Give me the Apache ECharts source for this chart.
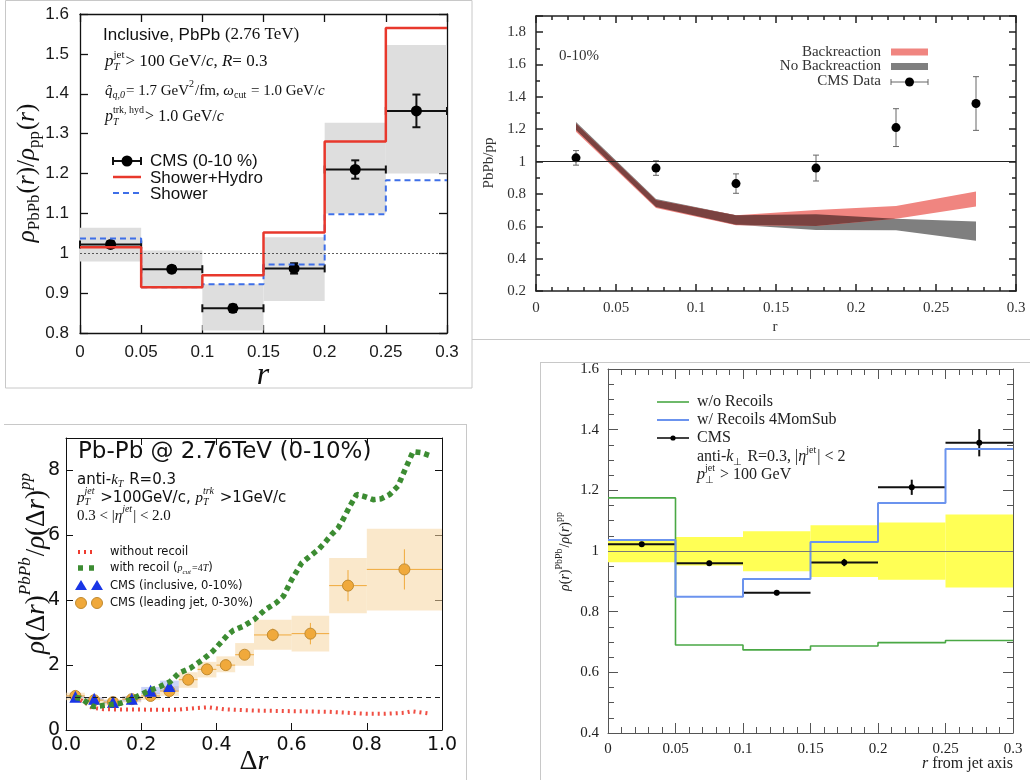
<!DOCTYPE html>
<html>
<head>
<meta charset="utf-8">
<script src="https://cdn.jsdelivr.net/npm/echarts@6/dist/echarts.min.js"></script>
<style>
  html, body { margin: 0; padding: 0; background: #fff; }
  #chart { width: 1030px; height: 780px; }
</style>
</head>
<body>
<div id="chart"></div>
<script>
// ---------- panel 1 (top left): shower+hydro vs CMS ----------
const binEdges = [0, 0.05, 0.1, 0.15, 0.2, 0.25, 0.3];
const binCenters = [0.025, 0.075, 0.125, 0.175, 0.225, 0.275];
const cmsRatio = [1.022, 0.96, 0.862, 0.962, 1.21, 1.357];
const cmsStatErr = [0.008, 0.008, 0.009, 0.013, 0.023, 0.041];
const cmsSysLo = [0.979, 0.912, 0.806, 0.88, 1.1, 1.2];
const cmsSysHi = [1.064, 1.007, 0.922, 1.04, 1.327, 1.522];
const showerHydro = [1.015, 0.915, 0.945, 1.052, 1.28, 1.565];
const showerOnly = [1.037, 0.915, 0.922, 0.972, 1.098, 1.183];

// ---------- panel 2 (top right): backreaction bands ----------
const bandX = [0.025, 0.075, 0.125, 0.175, 0.225, 0.275];
const backLo = [1.185, 0.713, 0.606, 0.602, 0.647, 0.722];
const backHi = [1.235, 0.762, 0.668, 0.70, 0.726, 0.815];
const noBackLo = [1.195, 0.72, 0.61, 0.577, 0.575, 0.51];
const noBackHi = [1.245, 0.768, 0.668, 0.675, 0.647, 0.629];
const cms2Ratio = [1.023, 0.96, 0.864, 0.96, 1.21, 1.359];
const cms2Err = [0.045, 0.045, 0.06, 0.08, 0.117, 0.166];

// ---------- panel 3 (bottom left): recoil, 0 < dr < 1 ----------
const recoilX = [0.025, 0.038, 0.073, 0.11, 0.144, 0.18, 0.215, 0.25, 0.277, 0.3, 0.33, 0.365, 0.39, 0.43, 0.445, 0.47, 0.5, 0.53, 0.56, 0.578, 0.6, 0.627, 0.649, 0.671, 0.688, 0.706, 0.724, 0.737, 0.755, 0.773, 0.79, 0.817, 0.839, 0.861, 0.883, 0.9, 0.923, 0.945, 0.972];
const recoilY = [1.0, 0.98, 0.72, 0.77, 0.82, 0.98, 1.18, 1.34, 1.49, 1.75, 1.9, 2.18, 2.42, 2.93, 3.07, 3.19, 3.4, 3.71, 3.93, 4.12, 4.63, 5.15, 5.36, 5.56, 5.77, 6.02, 6.23, 6.49, 6.9, 7.26, 7.21, 7.1, 7.13, 7.26, 7.52, 7.98, 8.58, 8.55, 8.44];
const noRecoilX = [0.025, 0.05, 0.07, 0.1, 0.15, 0.2, 0.25, 0.3, 0.35, 0.38, 0.42, 0.5, 0.55, 0.6, 0.65, 0.7, 0.75, 0.8, 0.85, 0.9, 0.92, 0.97];
const noRecoilY = [1.02, 0.85, 0.68, 0.64, 0.63, 0.63, 0.62, 0.63, 0.68, 0.7, 0.64, 0.6, 0.59, 0.58, 0.57, 0.56, 0.53, 0.5, 0.5, 0.53, 0.58, 0.5];
const leadX = [0.025, 0.075, 0.125, 0.175, 0.225, 0.275, 0.325, 0.375, 0.425, 0.475, 0.55, 0.65, 0.75, 0.9];
const leadBinLo = [0, 0.05, 0.1, 0.15, 0.2, 0.25, 0.3, 0.35, 0.4, 0.45, 0.5, 0.6, 0.7, 0.8];
const leadBinHi = [0.05, 0.1, 0.15, 0.2, 0.25, 0.3, 0.35, 0.4, 0.45, 0.5, 0.6, 0.7, 0.8, 1.0];
const leadRatio = [1.05, 0.92, 0.86, 0.95, 1.05, 1.2, 1.55, 1.87, 2.0, 2.32, 2.93, 2.97, 4.45, 4.95];
const leadErr = [0.03, 0.03, 0.03, 0.03, 0.04, 0.05, 0.06, 0.07, 0.08, 0.1, 0.2, 0.33, 0.48, 0.62];
const leadSysLo = [0.92, 0.8, 0.75, 0.85, 0.93, 1.05, 1.3, 1.62, 1.78, 1.98, 2.47, 2.42, 3.6, 3.68];
const leadSysHi = [1.15, 1.0, 0.95, 1.05, 1.15, 1.35, 1.78, 2.1, 2.27, 2.68, 3.4, 3.52, 5.3, 6.2];

// ---------- panel 4 (bottom right): recoils 4MomSub ----------
const woRecoils = [1.175, 0.69, 0.674, 0.687, 0.698, 0.705];
const wRecoils = [1.036, 0.849, 0.908, 1.03, 1.158, 1.336];
const mcLo = [0.963, 0.952, 0.933, 0.914, 0.905, 0.88];
const mcHi = [1.037, 1.046, 1.065, 1.085, 1.094, 1.12];
const cms4Err = [0.008, 0.008, 0.008, 0.012, 0.025, 0.045];

const SANS = 'Liberation Sans', SERIF = 'Liberation Serif', DJS = 'DejaVu Sans';

// overlap of the two bands in panel 2 (drawn darker, as in the original)
const overlapLo = backLo.map((v, i) => Math.max(v, noBackLo[i]));
const overlapHi = backHi.map((v, i) => Math.max(overlapLo[i], Math.min(v, noBackHi[i])));

// ---- axes ----
const xAxes = [], yAxes = [];
function addAxes(grid, xr, yr, st) {
  const line = { show: true, onZero: false, lineStyle: { color: st.color, width: st.lw } };
  const tick = { show: true, inside: true, length: st.tick, lineStyle: { color: st.color, width: st.lw } };
  const minor = (n) => n ? { show: true, splitNumber: n, length: st.minor, lineStyle: { color: st.color, width: st.lw } } : { show: false };
  const label = { fontFamily: st.font, fontSize: st.fs, color: st.lc, margin: st.margin };
  [false, true].forEach(mirror => {
    const xl = mirror ? { show: false } : Object.assign({}, label);
    if (!mirror && st.fx) xl.formatter = st.fx;
    xAxes.push({
      type: 'value', gridIndex: grid, position: mirror ? 'top' : 'bottom',
      min: xr[0], max: xr[1], interval: xr[2],
      axisLine: line, axisTick: tick, minorTick: minor(xr[3]),
      splitLine: { show: false }, axisLabel: xl
    });
    const yl = mirror ? { show: false } : Object.assign({ showMaxLabel: st.showMaxY !== false }, label);
    if (!mirror && st.fy) yl.formatter = st.fy;
    yAxes.push({
      type: 'value', gridIndex: grid, position: mirror ? 'right' : 'left',
      min: yr[0], max: yr[1], interval: yr[2],
      axisLine: line, axisTick: tick, minorTick: minor(yr[3]),
      splitLine: { show: false }, axisLabel: yl
    });
  });
}
addAxes(0, [0, 0.3, 0.05, 0], [0.8, 1.6, 0.1, 0],
  { color: '#111', lw: 1.3, tick: 8, minor: 0, font: SANS, fs: 17, lc: '#1a1a1a', margin: 11 });
addAxes(1, [0, 0.3, 0.05, 5], [0.2, 1.9, 0.2, 2],
  { color: '#222', lw: 1.5, tick: 7, minor: 4, font: SERIF, fs: 15, lc: '#333', margin: 10, showMaxY: false });
addAxes(2, [0, 1, 0.2, 0], [0, 9, 2, 0],
  { color: '#111', lw: 1, tick: 7, minor: 0, font: DJS, fs: 19, lc: '#111', margin: 6, showMaxY: false,
    fx: v => v.toFixed(1), fy: v => (v % 2 === 0 ? String(v) : '') });
addAxes(3, [0, 0.3, 0.05, 5], [0.4, 1.6, 0.2, 4],
  { color: '#555', lw: 1, tick: 10, minor: 6, font: SERIF, fs: 15, lc: '#222', margin: 9 });

// ---- render helpers ----
function ax(g) { return { xAxisIndex: g * 2, yAxisIndex: g * 2 }; }

function boxSeries(g, rows, fill) {
  return Object.assign({
    type: 'custom', coordinateSystem: 'cartesian2d', silent: true, data: rows,
    renderItem: (params, api) => {
      const a = api.coord([api.value(0), api.value(3)]);
      const b = api.coord([api.value(1), api.value(2)]);
      return { type: 'rect', shape: { x: a[0], y: a[1], width: b[0] - a[0], height: b[1] - a[1] }, style: { fill } };
    }
  }, ax(g));
}

// rows: [x, y, xlo, xhi, ylo, yhi]
function errSeries(g, rows, color, width, capX, capY) {
  return Object.assign({
    type: 'custom', coordinateSystem: 'cartesian2d', silent: true, data: rows,
    renderItem: (params, api) => {
      const x = api.value(0), y = api.value(1);
      const xlo = api.value(2), xhi = api.value(3), ylo = api.value(4), yhi = api.value(5);
      const st = { stroke: color, lineWidth: width };
      const kids = [];
      const seg = (p, q) => kids.push({ type: 'line', shape: { x1: p[0], y1: p[1], x2: q[0], y2: q[1] }, style: st });
      if (xhi > xlo) {
        const a = api.coord([xlo, y]), b = api.coord([xhi, y]);
        seg(a, b);
        if (capY) { seg([a[0], a[1] - capY], [a[0], a[1] + capY]); seg([b[0], b[1] - capY], [b[0], b[1] + capY]); }
      }
      if (yhi > ylo) {
        const a = api.coord([x, ylo]), b = api.coord([x, yhi]);
        seg(a, b);
        if (capX) { seg([a[0] - capX, a[1]], [a[0] + capX, a[1]]); seg([b[0] - capX, b[1]], [b[0] + capX, b[1]]); }
      }
      return { type: 'group', children: kids };
    }
  }, ax(g));
}

// band built from consecutive segments: rows [x0, lo0, hi0, x1, lo1, hi1]
function bandSeries(g, xs, lo, hi, fill) {
  const rows = [];
  for (let i = 0; i < xs.length - 1; i++) {
    if (hi[i] - lo[i] + hi[i + 1] - lo[i + 1] <= 0) continue;
    rows.push([xs[i], lo[i], hi[i], xs[i + 1], lo[i + 1], hi[i + 1]]);
  }
  return Object.assign({
    type: 'custom', coordinateSystem: 'cartesian2d', silent: true, data: rows,
    renderItem: (params, api) => {
      const pts = [
        api.coord([api.value(0), api.value(1)]), api.coord([api.value(3), api.value(4)]),
        api.coord([api.value(3), api.value(5)]), api.coord([api.value(0), api.value(2)])
      ];
      return { type: 'polygon', shape: { points: pts }, style: { fill } };
    }
  }, ax(g));
}

function stepSeries(g, vals, color, width, type) {
  return Object.assign({
    type: 'line', step: 'end', symbol: 'none', silent: true,
    data: binEdges.map((e, i) => [e, vals[Math.min(i, vals.length - 1)]]),
    lineStyle: { color, width, type: type || 'solid' }
  }, ax(g));
}

function unityLine(g, color, type, width) {
  return Object.assign({
    type: 'line', data: [], silent: true,
    markLine: { silent: true, symbol: ['none', 'none'], label: { show: false },
      lineStyle: { color, type, width }, data: [{ yAxis: 1 }] }
  }, ax(g));
}

function scatter(g, xs, ys, symbol, size, color, border) {
  return Object.assign({
    type: 'scatter', symbol, symbolSize: size, silent: true,
    data: xs.map((x, i) => [x, ys[i]]),
    itemStyle: { color, borderColor: border || color, borderWidth: border ? 1 : 0, opacity: 1 }
  }, ax(g));
}

// ---- text helpers (math-like labels with sub/superscripts) ----
const mctx = document.createElement('canvas').getContext('2d');
function measure(t, s, f, it) { mctx.font = (it ? 'italic ' : '') + s + 'px "' + f + '"'; return mctx.measureText(t).width; }
function txt(x, y, t, s, f, it, color) {
  return { type: 'text', x, y, silent: true,
    style: { text: t, fontSize: s, fontFamily: f, fontStyle: it ? 'italic' : 'normal', fill: color, align: 'left', verticalAlign: 'middle' } };
}
function mathText(x, y, pieces, base, align, rotation) {
  const els = []; let cx = 0;
  const S = base.s, F = base.f, C = base.c || '#111';
  pieces.forEach(p => {
    const f = p.f || F;
    if (p.t !== undefined) {
      const s = p.s || S;
      els.push(txt(cx, p.dy || 0, p.t, s, f, p.it, C));
      cx += measure(p.t, s, f, p.it);
    } else {
      const s = p.s || Math.round(S * 0.65);
      let w = 0;
      if (p.up) { els.push(txt(cx, -S * 0.42, p.up, s, f, p.upIt, C)); w = Math.max(w, measure(p.up, s, f, p.upIt)); }
      if (p.dn) { els.push(txt(cx, S * 0.32, p.dn, s, f, p.dnIt, C)); w = Math.max(w, measure(p.dn, s, f, p.dnIt)); }
      cx += w + 1;
    }
  });
  const shift = align === 'center' ? -cx / 2 : align === 'right' ? -cx : 0;
  els.forEach(e => { e.x += shift; });
  return { type: 'group', x, y, rotation: rotation || 0, children: els, z: 100 };
}
function plain(x, y, t, s, f, color, align, it) {
  return { type: 'text', x, y, silent: true, z: 100,
    style: { text: t, fontSize: s, fontFamily: f, fontStyle: it ? 'italic' : 'normal', fill: color || '#111', align: align || 'left', verticalAlign: 'middle' } };
}
const L = (x1, y1, x2, y2, stroke, lineWidth, dash) =>
  ({ type: 'line', silent: true, z: 100, shape: { x1, y1, x2, y2 }, style: { stroke, lineWidth, lineDash: dash || null } });
const dot = (cx, cy, r, fill, stroke) =>
  ({ type: 'circle', silent: true, z: 100, shape: { cx, cy, r }, style: { fill, stroke: stroke || null, lineWidth: 1 } });

// ---- series ----
const idx = binCenters.map((_, i) => i);
const series = [
  // panel 1
  boxSeries(0, idx.map(i => [binEdges[i], binEdges[i + 1], cmsSysLo[i], cmsSysHi[i]]), '#dedede'),
  unityLine(0, '#333', [2, 2], 0.8),
  stepSeries(0, showerOnly, '#3e6fe8', 2, [6, 4]),
  stepSeries(0, showerHydro, '#e8382c', 2.5),
  errSeries(0, idx.map(i => [binCenters[i], cmsRatio[i], binEdges[i], binEdges[i + 1], cmsRatio[i] - cmsStatErr[i], cmsRatio[i] + cmsStatErr[i]]), '#111', 2, 4, 4),
  scatter(0, binCenters, cmsRatio, 'circle', 11, '#000'),
  // panel 2
  unityLine(1, '#222', 'solid', 1.2),
  bandSeries(1, bandX, noBackLo, noBackHi, '#7f7f7f'),
  bandSeries(1, bandX, backLo, backHi, '#f08580'),
  bandSeries(1, bandX, overlapLo, overlapHi, '#7a4240'),
  errSeries(1, idx.map(i => [binCenters[i], cms2Ratio[i], 0, 0, cms2Ratio[i] - cms2Err[i], cms2Ratio[i] + cms2Err[i]]), '#666', 1, 3, 0),
  scatter(1, binCenters, cms2Ratio, 'circle', 9, '#000'),
  // panel 3
  boxSeries(2, leadX.map((_, i) => [leadBinLo[i], leadBinHi[i], leadSysLo[i], leadSysHi[i]]), 'rgba(246,214,160,0.55)'),
  boxSeries(2, idx.map(i => [binEdges[i], binEdges[i + 1], cmsSysLo[i], cmsSysHi[i]]), 'rgba(140,160,240,0.45)'),
  unityLine(2, '#222', [5, 4], 1.2),
  Object.assign({ type: 'line', symbol: 'none', silent: true, data: noRecoilX.map((x, i) => [x, noRecoilY[i]]),
    lineStyle: { color: '#ee3b2f', width: 4, type: [2, 4], opacity: 0.9 } }, ax(2)),
  Object.assign({ type: 'line', symbol: 'none', silent: true, data: recoilX.map((x, i) => [x, recoilY[i]]),
    lineStyle: { color: '#3c8c32', width: 5.5, type: [5, 4] } }, ax(2)),
  errSeries(2, leadX.map((x, i) => [x, leadRatio[i], leadBinLo[i], leadBinHi[i], leadRatio[i] - leadErr[i], leadRatio[i] + leadErr[i]]), '#f0a93b', 1, 0, 0),
  scatter(2, leadX, leadRatio, 'circle', 11, '#f0a93b', '#c08a30'),
  scatter(2, binCenters, cmsRatio, 'triangle', 12, '#1935e6'),
  // panel 4
  boxSeries(3, idx.map(i => [binEdges[i], binEdges[i + 1], mcLo[i], mcHi[i]]), '#ffff55'),
  unityLine(3, '#777', 'solid', 1),
  stepSeries(3, woRecoils, '#4aa845', 1.6),
  stepSeries(3, wRecoils, '#6b93ee', 2),
  errSeries(3, idx.map(i => [binCenters[i], cmsRatio[i], binEdges[i], binEdges[i + 1], cmsRatio[i] - cms4Err[i], cmsRatio[i] + cms4Err[i]]), '#111', 2, 0, 0),
  scatter(3, binCenters, cmsRatio, 'circle', 6, '#000')
];
series.forEach(s => { s.animation = false; });

// ---- texts, legends, frames ----
const graphics = [
  // panel frames
  { type: 'rect', silent: true, shape: { x: 5.5, y: 0.5, width: 466.5, height: 387.5 }, style: { fill: null, stroke: '#c8c8c8', lineWidth: 1 } },
  L(472, 339.5, 1030, 339.5, '#c8c8c8', 1),
  L(4, 424.5, 466.5, 424.5, '#c8c8c8', 1), L(466.5, 424, 466.5, 780, '#c8c8c8', 1),
  L(540, 362.5, 1030, 362.5, '#c8c8c8', 1), L(540.5, 362, 540.5, 780, '#c8c8c8', 1),

  // panel 1 texts
  mathText(103, 35, [{ t: 'Inclusive, PbPb ', f: SANS }, { t: '(2.76 TeV)' }], { s: 17, f: SERIF }),
  mathText(105, 62, [{ t: 'p', it: 1 }, { up: 'jet', dn: 'T', dnIt: 1 }, { t: '> 100 GeV/' }, { t: 'c', it: 1 }, { t: ', ' }, { t: 'R', it: 1 }, { t: '= 0.3' }], { s: 17, f: SERIF }),
  mathText(105, 91, [{ t: 'q\u0302', it: 1 }, { dn: 'q,0', dnIt: 1 }, { t: '= 1.7 GeV' }, { up: '2' }, { t: '/fm, ' }, { t: 'ω', it: 1 }, { dn: 'cut' }, { t: ' = 1.0 GeV/' }, { t: 'c', it: 1 }], { s: 15, f: SERIF }),
  mathText(105, 117, [{ t: 'p', it: 1 }, { up: 'trk, hyd', dn: 'T', dnIt: 1 }, { t: '> 1.0 GeV/' }, { t: 'c', it: 1 }], { s: 16, f: SERIF }),
  L(113, 161, 141, 161, '#111', 2), L(113, 157, 113, 165, '#111', 2), L(141, 157, 141, 165, '#111', 2), dot(127, 161, 5.5, '#000'),
  L(113, 177, 141, 177, '#e8382c', 2.5),
  L(113, 193, 141, 193, '#3e6fe8', 2, [6, 4]),
  plain(150, 161, 'CMS (0-10 %)', 17, SANS, '#111'),
  plain(150, 178, 'Shower+Hydro', 17, SANS, '#111'),
  plain(150, 194, 'Shower', 17, SANS, '#111'),
  mathText(27, 173, [{ t: 'ρ', it: 1 }, { dn: 'PbPb', s: 17 }, { t: '(' }, { t: 'r', it: 1 }, { t: ')/' }, { t: 'ρ', it: 1 }, { dn: 'pp', s: 17 }, { t: '(' }, { t: 'r', it: 1 }, { t: ')' }], { s: 25, f: SERIF }, 'center', Math.PI / 2),
  plain(263, 376, 'r', 32, SERIF, '#111', 'center', true),

  // panel 2 texts
  plain(559, 56, '0-10%', 15, SERIF, '#333'),
  plain(881, 52, 'Backreaction', 15, SERIF, '#333', 'right'),
  plain(881, 66, 'No Backreaction', 15, SERIF, '#333', 'right'),
  plain(881, 81, 'CMS Data', 15, SERIF, '#333', 'right'),
  { type: 'rect', silent: true, z: 100, shape: { x: 891, y: 48.5, width: 37, height: 7 }, style: { fill: '#f08580' } },
  { type: 'rect', silent: true, z: 100, shape: { x: 891, y: 63, width: 37, height: 7 }, style: { fill: '#7f7f7f' } },
  L(891, 82, 928, 82, '#666', 1), L(891, 79, 891, 85, '#666', 1), L(928, 79, 928, 85, '#666', 1), dot(909.5, 82, 4.5, '#000'),
  mathText(489, 163, [{ t: 'PbPb/pp' }], { s: 15, f: SERIF, c: '#333' }, 'center', Math.PI / 2),
  plain(775, 327, 'r', 15, SERIF, '#333', 'center'),

  // panel 3 texts
  plain(78, 452, 'Pb-Pb @ 2.76TeV (0-10%)', 23, DJS, '#111'),
  mathText(77, 480, [{ t: 'anti-' }, { t: 'k', it: 1, f: SERIF }, { dn: 'T', dnIt: 1, f: SERIF }, { t: ' R=0.3' }], { s: 15, f: DJS }),
  mathText(77, 498, [{ t: 'p', it: 1, f: SERIF }, { up: 'jet', dn: 'T', upIt: 1, dnIt: 1, f: SERIF }, { t: ' >100GeV/c, ' }, { t: 'p', it: 1, f: SERIF }, { up: 'trk', dn: 'T', upIt: 1, dnIt: 1, f: SERIF }, { t: ' >1GeV/c' }], { s: 15, f: DJS }),
  mathText(77, 516, [{ t: '0.3 < |' }, { t: 'η', it: 1 }, { up: 'jet', upIt: 1 }, { t: '| < 2.0' }], { s: 15, f: SERIF }),
  L(78, 552, 96, 552, '#ee3b2f', 4, [2, 4]),
  L(78, 568, 98, 568, '#3c8c32', 5.5, [5, 6]),
  { type: 'polygon', silent: true, z: 100, shape: { points: [[81, 580], [75, 590], [87, 590]] }, style: { fill: '#1935e6' } },
  { type: 'polygon', silent: true, z: 100, shape: { points: [[97, 580], [91, 590], [103, 590]] }, style: { fill: '#1935e6' } },
  dot(81, 603, 5.5, '#f0a93b', '#c08a30'), dot(97, 603, 5.5, '#f0a93b', '#c08a30'),
  plain(110, 552, 'without recoil', 11.5, DJS, '#111'),
  mathText(110, 568, [{ t: 'with recoil (' }, { t: 'p', it: 1, f: SERIF, s: 10 }, { dn: 'cut', s: 7, f: SERIF, dnIt: 1 }, { t: '=4', f: SERIF, s: 10 }, { t: 'T', it: 1, f: SERIF, s: 10 }, { t: ')' }], { s: 11.5, f: DJS }),
  plain(110, 586, 'CMS (inclusive, 0-10%)', 11.5, DJS, '#111'),
  plain(110, 603, 'CMS (leading jet, 0-30%)', 11.5, DJS, '#111'),
  mathText(254, 762, [{ t: 'Δ' }, { t: 'r', it: 1 }], { s: 28, f: SERIF }, 'center'),
  mathText(37, 563, [{ t: 'ρ', it: 1 }, { t: '(Δ' }, { t: 'r', it: 1 }, { t: ')' }, { up: 'PbPb', upIt: 1, s: 17 }, { t: '/' }, { t: 'ρ', it: 1 }, { t: '(Δ' }, { t: 'r', it: 1 }, { t: ')' }, { up: 'pp', upIt: 1, s: 17 }], { s: 27, f: SERIF }, 'center', Math.PI / 2),

  // panel 4 texts
  L(657, 402, 689, 402, '#4aa845', 1.6),
  L(657, 420, 689, 420, '#6b93ee', 2),
  L(657, 438, 689, 438, '#111', 1.6), dot(673, 438, 2.6, '#000'),
  plain(697, 402, 'w/o Recoils', 16, SERIF, '#222'),
  plain(697, 420, 'w/ Recoils 4MomSub', 16, SERIF, '#222'),
  plain(697, 438, 'CMS', 16, SERIF, '#222'),
  mathText(697, 457, [{ t: 'anti-' }, { t: 'k', it: 1 }, { dn: '⊥' }, { t: ' R=0.3, |' }, { t: 'η', it: 1 }, { up: 'jet' }, { t: '| < 2' }], { s: 16, f: SERIF, c: '#222' }),
  mathText(697, 475, [{ t: 'p', it: 1 }, { up: 'jet', dn: '⊥' }, { t: ' > 100 GeV' }], { s: 16, f: SERIF, c: '#222' }),
  mathText(565, 551, [{ t: 'ρ', it: 1 }, { t: '(' }, { t: 'r', it: 1 }, { t: ')' }, { up: 'PbPb', s: 10 }, { t: '/' }, { t: 'ρ', it: 1 }, { t: '(' }, { t: 'r', it: 1 }, { t: ')' }, { up: 'pp', s: 10 }], { s: 14, f: SERIF, c: '#222' }, 'center', Math.PI / 2),
  mathText(1013, 764, [{ t: 'r', it: 1 }, { t: ' from jet axis' }], { s: 16, f: SERIF, c: '#222' }, 'right')
];

const chart = echarts.init(document.getElementById('chart'), null, { renderer: 'canvas' });
chart.setOption({
  animation: false,
  backgroundColor: '#fff',
  grid: [
    { left: 80, top: 14, width: 367, height: 319 },
    { left: 536, top: 16, width: 480, height: 275 },
    { left: 66, top: 438, width: 376, height: 292 },
    { left: 608, top: 369, width: 405, height: 364 }
  ],
  xAxis: xAxes,
  yAxis: yAxes,
  series,
  graphic: graphics
});
</script>
</body>
</html>
